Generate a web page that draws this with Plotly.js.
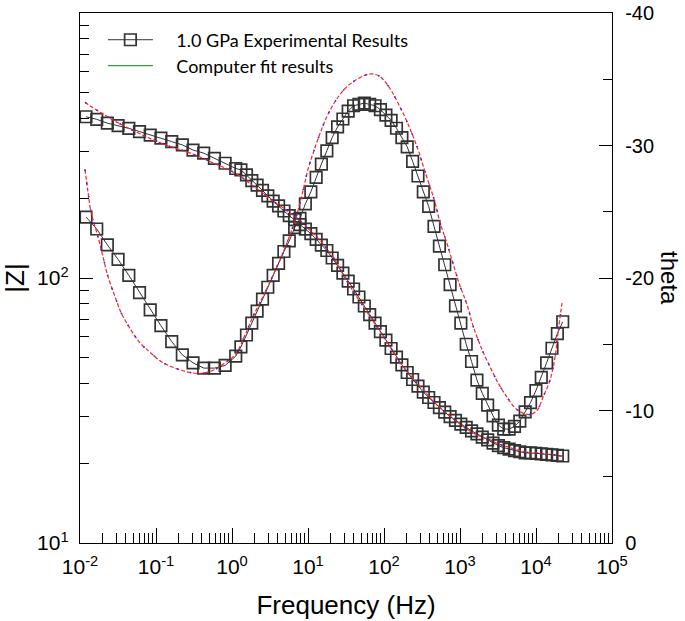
<!DOCTYPE html>
<html>
<head>
<meta charset="utf-8">
<script src="https://cdn.plot.ly/plotly-3.0.1.min.js"></script>
<style>html,body{margin:0;padding:0;background:#fff;}#chart{width:685px;height:621px;}</style>
</head>
<body>
<div id="chart"></div>
<script>
// ---- Experimental data (frequency in Hz, |Z| in ohm, theta in degrees) ----
const expFreq = [0.012, 0.0166, 0.0229, 0.0317, 0.0439, 0.0607, 0.0839, 0.116, 0.161, 0.222, 0.307, 0.424, 0.587, 0.812, 1.12,
  1.31, 1.55, 1.82, 2.14, 2.52, 2.96, 3.48, 4.10, 4.82, 5.67, 6.67, 7.84, 9.23, 10.9, 12.8, 15.0, 17.7, 20.8, 24.5, 28.8,
  33.8, 39.8, 46.8, 55.1, 64.8, 76.2, 89.7, 106, 124, 146, 172, 202, 238, 280, 329, 387, 455, 536, 630, 741, 872,
  1026, 1207, 1419, 1670, 1964, 2311, 2719, 3198, 3763, 4426, 5207, 6124, 7205, 8474, 9970, 11730, 13800, 16230, 19100, 22460];
const expZ = [406, 397, 384, 376, 367, 357, 346, 337, 327, 318, 304, 296, 283, 271, 259,
  256, 245, 233, 224, 214, 204, 195, 187, 179, 172, 166, 159, 153, 147, 140, 133, 127, 119, 111.5, 104.4,
  97.4, 90.9, 84.8, 78.4, 72.8, 67.6, 62.8, 58.3, 54.2, 50.3, 47.0, 44.0, 41.4, 39.1, 37.1, 35.4, 33.9, 32.4, 31.2, 30.0, 29.0,
  28.1, 27.3, 26.5, 25.8, 25.1, 24.5, 23.8, 23.3, 22.9, 22.6, 22.3, 22.1, 21.9, 21.9, 21.8, 21.7, 21.6, 21.5, 21.4, 21.3];
const expTheta = [-24.6, -23.7, -22.5, -21.4, -20.2, -18.9, -17.6, -16.4, -15.2, -14.2, -13.6, -13.2, -13.2, -13.4, -14.1,
  -14.8, -15.7, -16.6, -17.5, -18.4, -19.3, -20.2, -21.1, -22.0, -22.8, -23.8, -24.5, -25.6, -26.5, -27.6, -28.6, -29.6, -30.6, -31.4, -32.0,
  -32.6, -33.0, -33.1, -33.2, -33.1, -33.0, -32.7, -32.3, -31.9, -31.3, -30.6, -29.9, -28.8, -27.7, -26.5, -25.4, -23.9, -22.4, -21.0, -19.5, -17.9,
  -16.6, -15.0, -13.7, -12.3, -11.3, -10.4, -9.6, -8.9, -8.6, -8.6, -8.8, -9.2, -9.9, -10.6, -11.5, -12.5, -13.6, -14.7, -15.8, -16.7];

// ---- Computer fit ----
const fitFreq = [0.01163, 0.01274, 0.01395, 0.01725, 0.02008, 0.02335, 0.02887, 0.03463, 0.04548, 0.06158,
  0.0834, 0.1163, 0.1778, 0.2637, 0.391, 0.5974, 0.809, 1.095, 1.483, 1.889,
  2.558, 3.463, 4.69, 6.348, 7.387, 8.596, 10.0, 11.64, 14.38, 17.78,
  22.66, 30.68, 41.53, 56.23, 69.53, 88.6, 119.9, 152.9, 200.8, 280.2,
  326.0, 402.9, 469.0, 545.6, 674.5, 808.9, 1000, 1236, 1483, 1948,
  2481, 3162, 4153, 5292, 6745, 8340, 10310, 12360, 15290, 17780, 19480, 21990];
const fitZ = [460, 452, 444, 427, 416, 405, 391, 380, 365, 350,
  336, 323, 309, 298, 285, 270, 260, 249, 235, 222.5,
  209, 195, 184, 173, 167, 161, 154, 148, 138.5, 129,
  117, 100, 87, 76.4, 69.7, 62.8, 55.1, 49.0, 44.6, 39.8,
  38.1, 35.3, 33.8, 32.4, 30.8, 29.5, 28.1, 26.9, 26.0, 25.1,
  24.5, 23.7, 23.1, 22.6, 22.2, 21.9, 21.9, 21.7, 21.6, 21.5, 21.3, 21.2];
const fitTheta = [-28.2, -26.5, -25.0, -23.1, -21.6, -20.1, -18.6, -17.4, -16.2, -15.1,
  -14.4, -13.7, -13.2, -12.9, -12.8, -13.1, -13.6, -14.2, -15.7, -17.1,
  -18.6, -20.2, -21.9, -23.9, -25.1, -26.6, -28.2, -29.4, -30.9, -32.2,
  -33.3, -34.3, -34.9, -35.3, -35.4, -35.2, -34.3, -33.2, -31.8, -29.7,
  -28.5, -26.9, -25.7, -24.2, -22.6, -21.1, -19.4, -18.0, -16.4, -14.6,
  -13.3, -12.1, -11.0, -10.2, -9.8, -9.7, -10.0, -11.0, -12.3, -14.0, -15.9, -18.1];

// ---- Tick labels ----
const xTickVals = [0.01, 0.1, 1, 10, 100, 1000, 10000, 100000];
const xTickText = ['10<sup>-2</sup>', '10<sup>-1</sup>', '10<sup>0</sup>', '10<sup>1</sup>', '10<sup>2</sup>', '10<sup>3</sup>', '10<sup>4</sup>', '10<sup>5</sup>'];
const zTickVals = [10, 100, 1000];
const zTickText = ['10<sup>1</sup>', '10<sup>2</sup>', '10<sup>3</sup>'];
const thetaTickVals = [0, -10, -20, -30, -40];
const thetaTickText = ['0', '-10', '-20', '-30', '-40'];

const legendLabels = ['1.0 GPa Experimental Results', 'Computer fit results'];
const pad = '\u00a0\u00a0\u00a0\u00a0';

function minorLog(d0, d1) {
  const out = [];
  for (let d = d0; d < d1; d++) for (let m = 2; m <= 9; m++) out.push(m * Math.pow(10, d));
  return out;
}

const expMarker = {symbol: 'square-open', size: 11.5, color: '#333333', line: {width: 1.7, color: '#333333'}};
const traces = [
  {x: expFreq, y: expZ, mode: 'lines+markers', line: {color: '#333', width: 1}, marker: expMarker,
   name: pad + legendLabels[0], showlegend: true, legend: 'legend', yaxis: 'y'},
  {x: expFreq, y: expTheta, mode: 'lines+markers', line: {color: '#333', width: 1}, marker: expMarker,
   showlegend: false, yaxis: 'y2'},
  {x: fitFreq, y: fitZ, mode: 'lines', line: {color: '#ff2020', width: 1.2, dash: '4px,2px', shape: 'spline'}, showlegend: false, yaxis: 'y'},
  {x: fitFreq, y: fitZ, mode: 'lines', line: {color: '#2a2aff', width: 1.6, dash: '1.5px,12px', shape: 'spline'}, showlegend: false, yaxis: 'y'},
  {x: fitFreq, y: fitTheta, mode: 'lines', line: {color: '#ff2020', width: 1.2, dash: '4px,2px', shape: 'spline'}, showlegend: false, yaxis: 'y2'},
  {x: fitFreq, y: fitTheta, mode: 'lines', line: {color: '#2a2aff', width: 1.6, dash: '1.5px,12px', shape: 'spline'}, showlegend: false, yaxis: 'y2'},
  {x: [null], y: [null], mode: 'lines', line: {color: '#3a9a3a', width: 1.2}, name: pad + legendLabels[1], showlegend: true, legend: 'legend2', yaxis: 'y'}
];

const tickFont = {family: '"Liberation Sans", Arial, sans-serif', size: 21, color: '#000'};
const titleFont = {family: '"Liberation Sans", Arial, sans-serif', size: 26, color: '#000'};
const legFont = {family: 'Lato, "Open Sans", sans-serif', size: 18, color: '#000'};

const layout = {
  width: 685, height: 621,
  margin: {l: 80, r: 73, t: 13, b: 78},
  paper_bgcolor: '#fff', plot_bgcolor: '#fff',
  showlegend: true,
  xaxis: {
    type: 'log', range: [-2, 5], tickmode: 'array', tickvals: xTickVals, ticktext: xTickText,
    ticks: 'inside', ticklen: 15, tickwidth: 1, tickcolor: '#000', ticklabelstandoff: 5,
    minor: {tickvals: minorLog(-2, 5), ticks: 'inside', ticklen: 10, tickwidth: 1, tickcolor: '#000'},
    showgrid: false, zeroline: false, showline: true, linecolor: '#000', linewidth: 1.2, mirror: true,
    tickfont: tickFont,
    title: {text: 'Frequency (Hz)', font: titleFont, standoff: 18}
  },
  yaxis: {
    type: 'log', range: [1, 3], tickmode: 'array', tickvals: zTickVals, ticktext: zTickText,
    ticks: 'inside', ticklen: 13, tickwidth: 1, tickcolor: '#000', ticklabelstandoff: 6,
    minor: {tickvals: minorLog(1, 3), ticks: 'inside', ticklen: 9, tickwidth: 1, tickcolor: '#000'},
    showgrid: false, zeroline: false, showline: true, linecolor: '#000', linewidth: 1.2,
    tickfont: tickFont,
    title: {text: '|Z|', font: titleFont, standoff: 12}
  },
  yaxis2: {
    overlaying: 'y', side: 'right', anchor: 'x', range: [0, -40],
    tickmode: 'array', tickvals: thetaTickVals, ticktext: thetaTickText,
    ticks: 'inside', ticklen: 13, tickwidth: 1, tickcolor: '#000', ticklabelstandoff: 8,
    minor: {tickvals: [-5, -15, -25, -35], ticks: 'inside', ticklen: 9, tickwidth: 1, tickcolor: '#000'},
    showgrid: false, zeroline: false, showline: true, linecolor: '#000', linewidth: 1.2,
    tickfont: {family: '"Liberation Sans", Arial, sans-serif', size: 20, color: '#000'}
  },
  legend: {x: 0.043, y: 0.949, xanchor: 'left', yanchor: 'middle', bgcolor: 'rgba(0,0,0,0)', font: legFont, itemwidth: 45},
  legend2: {x: 0.043, y: 0.900, xanchor: 'left', yanchor: 'middle', bgcolor: 'rgba(0,0,0,0)', font: legFont, itemwidth: 45},
  annotations: [
    {text: 'theta', xref: 'paper', yref: 'paper', x: 1.109, y: 0.5, xanchor: 'center', yanchor: 'middle',
     textangle: 90, showarrow: false, font: {family: '"Liberation Sans", Arial, sans-serif', size: 24, color: '#000'}}
  ]
};

Plotly.newPlot('chart', traces, layout, {displayModeBar: false, staticPlot: true});
</script>
</body>
</html>
